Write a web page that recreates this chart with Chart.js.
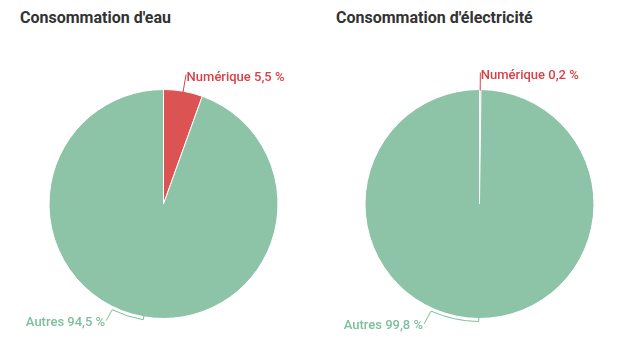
<!DOCTYPE html>
<html>
<head>
<meta charset="utf-8">
<script src="https://cdn.jsdelivr.net/npm/chart.js@4"></script>
<style>
  html, body { margin: 0; padding: 0; background: #fff; width: 624px; height: 357px; overflow: hidden; }
  .title { position: absolute; top: 8px; font-family: Roboto, sans-serif; font-weight: 700; font-size: 16px; color: #333; white-space: nowrap; }
  .box { position: absolute; top: 0; width: 312px; height: 357px; }
</style>
</head>
<body>
<div class="title" style="left:20px">Consommation d'eau</div>
<div class="title" style="left:336px">Consommation d'électricité</div>
<div class="box" style="left:0"><canvas id="c1"></canvas></div>
<div class="box" style="left:312px"><canvas id="c2"></canvas></div>
<script>
const categories = ['Numérique', 'Autres'];
const waterValues = [5.5, 94.5];
const elecValues = [0.2, 99.8];
const sliceColors = ['#dc5353', '#8dc4a8'];
const textColors = ['#dc3f46', '#7dbf9c'];

const leaderPlugin = {
  id: 'leaders',
  afterDatasetsDraw(chart, args, opts) {
    const ctx = chart.ctx;
    const meta = chart.getDatasetMeta(0);
    const labels = chart.data.labels;
    const values = chart.data.datasets[0].data;
    meta.data.forEach((arc, i) => {
      const p = arc.getProps(['x', 'y', 'startAngle', 'endAngle', 'outerRadius'], true);
      const x = p.x, y = p.y, r = p.outerRadius;
      const mid = (p.startAngle + p.endAngle) / 2;
      const text = labels[i] + ' ' + values[i].toFixed(1).replace('.', ',') + ' %';
      ctx.save();
      ctx.font = '500 13px Roboto';
      ctx.strokeStyle = textColors[i];
      ctx.fillStyle = textColors[i];
      ctx.lineWidth = 1;
      if (i === 0) {
        const x0 = x + (r - 1) * Math.cos(mid), y0 = y + (r - 1) * Math.sin(mid);
        const L = 17;
        const x1 = x + (r + L) * Math.cos(mid), y1 = y + (r + L) * Math.sin(mid);
        ctx.beginPath();
        ctx.moveTo(x0, y0);
        ctx.lineTo(x1, y1);
        ctx.stroke();
        ctx.textAlign = 'left';
        ctx.textBaseline = 'alphabetic';
        ctx.fillText(text, x1 + 0.5, y1 + 6.5);
      } else {
        const rb = r + 3;
        const span = opts.span * Math.PI / 180;
        ctx.beginPath();
        ctx.moveTo(x + (r - 1) * Math.cos(mid), y + (r - 1) * Math.sin(mid));
        ctx.lineTo(x + rb * Math.cos(mid), y + rb * Math.sin(mid));
        ctx.arc(x, y, rb, mid, mid + span, false);
        const ex = x + rb * Math.cos(mid + span), ey = y + rb * Math.sin(mid + span);
        const tx = ex - opts.dx, ty = ey + opts.dy;
        ctx.lineTo(tx, ty);
        ctx.stroke();
        ctx.textAlign = 'right';
        ctx.textBaseline = 'alphabetic';
        ctx.fillText(text, tx - 1, ty + 5);
      }
      ctx.restore();
    });
  }
};

function makeChart(id, values, pad, leaderOpts) {
  return new Chart(document.getElementById(id), {
    type: 'pie',
    data: {
      labels: categories,
      datasets: [{
        data: values,
        backgroundColor: sliceColors,
        borderColor: '#ffffff',
        borderWidth: 1
      }]
    },
    options: {
      responsive: true,
      maintainAspectRatio: false,
      animation: false,
      layout: { padding: pad },
      plugins: {
        legend: { display: false },
        tooltip: { enabled: false },
        leaders: leaderOpts
      }
    },
    plugins: [leaderPlugin]
  });
}

makeChart('c1', waterValues, { left: 48.5, right: 33.5, top: 89, bottom: 38 }, { span: 16, dx: 6, dy: 11 });
makeChart('c2', elecValues, { left: 52.5, right: 29.5, top: 89, bottom: 38 }, { span: 24, dx: 7, dy: 13 });
</script>
</body>
</html>
